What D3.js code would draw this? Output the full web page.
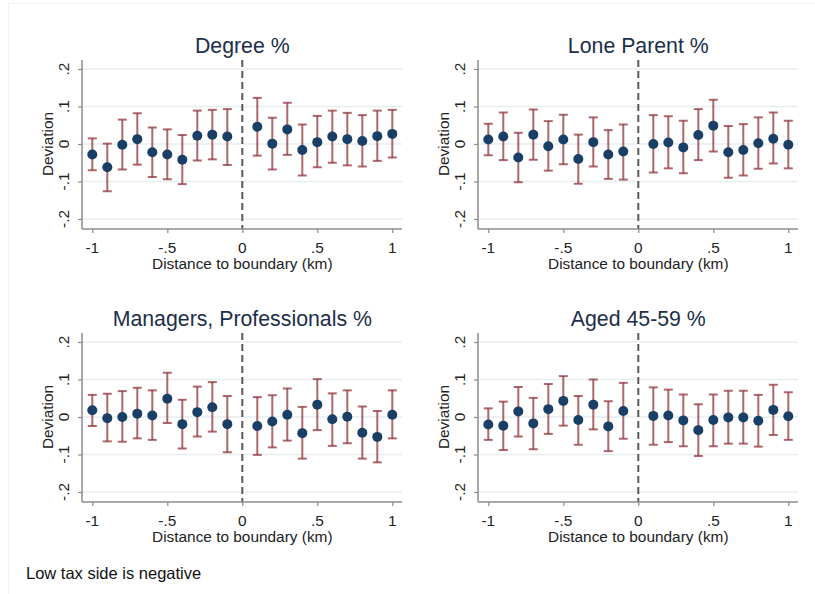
<!DOCTYPE html>
<html>
<head>
<meta charset="utf-8">
<script src="https://cdn.jsdelivr.net/npm/d3@7"></script>
<style>
  body { margin: 0; background: #fff; }
  svg { font-family: "Liberation Sans", Arial, sans-serif; }
</style>
</head>
<body>
<script>
/* distances from the boundary (km) */
var distances = [-1, -0.9, -0.8, -0.7, -0.6, -0.5, -0.4, -0.3, -0.2, -0.1,
                 0.1, 0.2, 0.3, 0.4, 0.5, 0.6, 0.7, 0.8, 0.9, 1];

var panelTitles = ["Degree %", "Lone Parent %", "Managers, Professionals %", "Aged 45-59 %"];

/* Degree % */
var degreeEst = [-0.028, -0.062, -0.002, 0.013, -0.022, -0.028, -0.042, 0.022, 0.025, 0.020,
                 0.046, 0.001, 0.039, -0.016, 0.005, 0.020, 0.013, 0.008, 0.021, 0.027];
var degreeHi  = [0.015, 0.001, 0.065, 0.082, 0.044, 0.039, 0.024, 0.089, 0.091, 0.093,
                 0.123, 0.070, 0.110, 0.052, 0.075, 0.089, 0.083, 0.077, 0.089, 0.091];
var degreeLo  = [-0.070, -0.126, -0.068, -0.055, -0.088, -0.094, -0.107, -0.044, -0.041, -0.056,
                 -0.031, -0.068, -0.029, -0.084, -0.062, -0.050, -0.057, -0.060, -0.045, -0.036];

/* Lone Parent % */
var loneEst = [0.012, 0.020, -0.036, 0.025, -0.006, 0.012, -0.040, 0.005, -0.028, -0.020,
               0.000, 0.004, -0.009, 0.024, 0.049, -0.022, -0.016, 0.002, 0.014, -0.002];
var loneHi  = [0.054, 0.084, 0.030, 0.092, 0.061, 0.078, 0.025, 0.071, 0.037, 0.052,
               0.077, 0.074, 0.062, 0.093, 0.118, 0.048, 0.053, 0.071, 0.084, 0.062];
var loneLo  = [-0.030, -0.043, -0.102, -0.042, -0.071, -0.054, -0.106, -0.060, -0.093, -0.095,
               -0.076, -0.065, -0.078, -0.043, -0.020, -0.090, -0.084, -0.066, -0.052, -0.065];

/* Managers, Professionals % */
var managersEst = [0.018, -0.003, 0.000, 0.009, 0.004, 0.049, -0.019, 0.013, 0.026, -0.019,
                   -0.024, -0.012, 0.006, -0.043, 0.033, -0.006, 0.001, -0.042, -0.053, 0.006];
var managersHi  = [0.059, 0.062, 0.069, 0.078, 0.071, 0.118, 0.046, 0.081, 0.093, 0.056,
                   0.053, 0.058, 0.076, 0.027, 0.101, 0.063, 0.071, 0.028, 0.016, 0.071];
var managersLo  = [-0.024, -0.065, -0.066, -0.057, -0.061, -0.016, -0.084, -0.052, -0.039, -0.094,
                   -0.101, -0.081, -0.063, -0.111, -0.035, -0.077, -0.070, -0.111, -0.121, -0.057];

/* Aged 45-59 % */
var agedEst = [-0.020, -0.023, 0.015, -0.017, 0.021, 0.043, -0.008, 0.033, -0.025, 0.016,
               0.003, 0.004, -0.009, -0.035, -0.008, -0.001, -0.001, -0.010, 0.019, 0.002];
var agedHi  = [0.023, 0.041, 0.080, 0.051, 0.088, 0.109, 0.056, 0.100, 0.042, 0.091,
               0.079, 0.073, 0.060, 0.034, 0.060, 0.070, 0.070, 0.059, 0.086, 0.066];
var agedLo  = [-0.061, -0.088, -0.052, -0.086, -0.045, -0.023, -0.074, -0.033, -0.091, -0.058,
               -0.074, -0.067, -0.078, -0.104, -0.078, -0.071, -0.071, -0.079, -0.048, -0.061];

var xTicks = [-1, -0.5, 0, 0.5, 1];
var xTickLabels = ["-1", "-.5", "0", ".5", "1"];
var yTicks = [-0.2, -0.1, 0, 0.1, 0.2];
var yTickLabels = ["-.2", "-.1", "0", ".1", ".2"];

var panels = [
  { title: panelTitles[0], est: degreeEst, hi: degreeHi, lo: degreeLo, dx: 0, dy: 0 },
  { title: panelTitles[1], est: loneEst, hi: loneHi, lo: loneLo, dx: 396, dy: 0 },
  { title: panelTitles[2], est: managersEst, hi: managersHi, lo: managersLo, dx: 0, dy: 273 },
  { title: panelTitles[3], est: agedEst, hi: agedHi, lo: agedLo, dx: 396, dy: 273 }
];

var svg = d3.select("body").append("svg")
    .attr("width", 815)
    .attr("height", 594);

/* faint outer frame of the exported graph */
svg.append("rect")
    .attr("x", 8.5).attr("y", 3.5)
    .attr("width", 820).attr("height", 600)
    .attr("fill", "none")
    .attr("stroke", "#f3f3f3");

/* plot region inside one panel */
var plotLeft = 82, plotRight = 402, plotTop = 60, plotBottom = 229;

var x = d3.scaleLinear().domain([-1, 1]).range([92.3, 392.3]);
var y = d3.scaleLinear().domain([-0.2, 0.2]).range([219, 69]);

var errColor = "#90353b", dotColor = "#1a3f66", titleColor = "#1c2e4a";
var labelSize = 15.4;

panels.forEach(function(p) {
    var g = svg.append("g")
        .attr("transform", "translate(" + p.dx + "," + p.dy + ")");

    /* gridlines */
    g.selectAll("line.grid")
        .data(yTicks)
        .enter().append("line")
        .attr("class", "grid")
        .attr("x1", plotLeft).attr("x2", plotRight)
        .attr("y1", function(d) { return y(d) }).attr("y2", function(d) { return y(d) })
        .attr("stroke", "#e6eef0")
        .attr("stroke-width", 1.5);

    /* dashed line at the boundary */
    g.append("line")
        .attr("x1", x(0)).attr("x2", x(0))
        .attr("y1", plotTop).attr("y2", plotBottom)
        .attr("stroke", "#5a5a5a")
        .attr("stroke-width", 2)
        .attr("stroke-dasharray", "7,4");

    /* axes */
    var yAxis = d3.axisLeft(y).tickValues(yTicks).tickSize(4).tickFormat("");
    var xAxis = d3.axisBottom(x).tickValues(xTicks).tickSize(4).tickFormat("");

    var ya = g.append("g").attr("transform", "translate(" + plotLeft + ",0)").call(yAxis);
    ya.select(".domain").attr("d", "M0," + plotTop + "V" + plotBottom);
    var xa = g.append("g").attr("transform", "translate(0," + plotBottom + ")").call(xAxis);
    xa.select(".domain").attr("d", "M" + plotLeft + ",0H" + plotRight);
    g.selectAll(".domain").attr("stroke", "#8c8c8c").attr("stroke-width", 1.5);
    g.selectAll(".tick line").attr("stroke", "#8c8c8c").attr("stroke-width", 1.2);

    /* y tick labels, rotated like Stata */
    g.selectAll("text.ylab")
        .data(yTicks)
        .enter().append("text")
        .attr("class", "ylab")
        .attr("transform", function(d) { return "translate(69," + y(d) + ") rotate(-90)" })
        .attr("text-anchor", "middle")
        .attr("font-size", labelSize)
        .attr("fill", "#222")
        .text(function(d, i) { return yTickLabels[i] });

    /* x tick labels */
    g.selectAll("text.xlab")
        .data(xTicks)
        .enter().append("text")
        .attr("class", "xlab")
        .attr("x", function(d) { return x(d) })
        .attr("y", 252.5)
        .attr("text-anchor", "middle")
        .attr("font-size", labelSize)
        .attr("fill", "#222")
        .text(function(d, i) { return xTickLabels[i] });

    /* axis titles */
    g.append("text")
        .attr("x", x(0)).attr("y", 268.7)
        .attr("text-anchor", "middle")
        .attr("font-size", labelSize)
        .attr("fill", "#222")
        .text("Distance to boundary (km)");

    g.append("text")
        .attr("transform", "translate(53," + y(0) + ") rotate(-90)")
        .attr("text-anchor", "middle")
        .attr("font-size", labelSize)
        .attr("fill", "#222")
        .text("Deviation");

    /* panel title */
    g.append("text")
        .attr("x", x(0)).attr("y", 53)
        .attr("text-anchor", "middle")
        .attr("font-size", 21.3)
        .attr("fill", titleColor)
        .text(p.title);

    /* error bars */
    var bars = g.append("g")
        .attr("stroke", errColor)
        .attr("stroke-opacity", 0.75)
        .attr("stroke-width", 2);

    bars.selectAll("line.ci")
        .data(distances)
        .enter().append("line")
        .attr("class", "ci")
        .attr("x1", function(d) { return x(d) }).attr("x2", function(d) { return x(d) })
        .attr("y1", function(d, i) { return y(p.hi[i]) })
        .attr("y2", function(d, i) { return y(p.lo[i]) });

    ["hi", "lo"].forEach(function(k) {
        bars.selectAll("line.cap" + k)
            .data(distances)
            .enter().append("line")
            .attr("class", "cap" + k)
            .attr("x1", function(d) { return x(d) - 4.5 })
            .attr("x2", function(d) { return x(d) + 4.5 })
            .attr("y1", function(d, i) { return y(p[k][i]) })
            .attr("y2", function(d, i) { return y(p[k][i]) });
    });

    /* point estimates */
    g.selectAll("circle")
        .data(distances)
        .enter().append("circle")
        .attr("cx", function(d) { return x(d) })
        .attr("cy", function(d, i) { return y(p.est[i]) })
        .attr("r", 5)
        .attr("fill", dotColor);
});

svg.append("text")
    .attr("x", 26).attr("y", 579)
    .attr("font-size", 16.5)
    .attr("fill", "#111")
    .text("Low tax side is negative");
</script>
</body>
</html>
